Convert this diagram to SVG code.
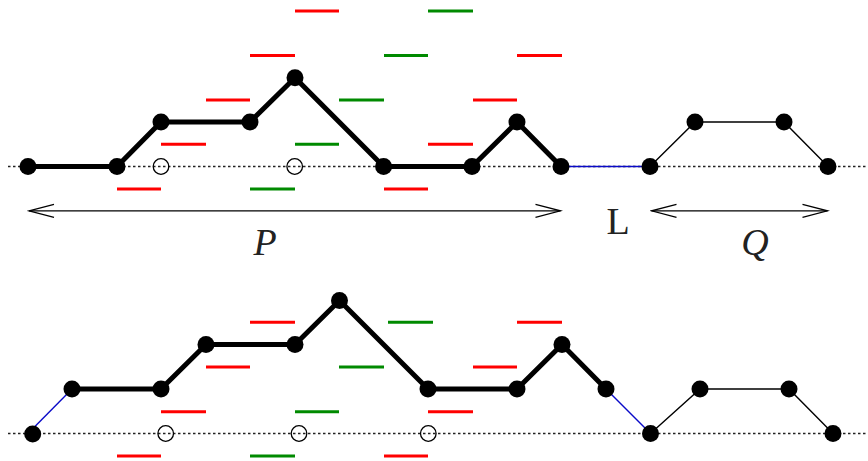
<svg xmlns="http://www.w3.org/2000/svg" width="868" height="461" viewBox="0 0 868 461">
<style>
.base{stroke:#222;stroke-width:1.5;stroke-dasharray:2.5 2.5;fill:none}
.thick{stroke:#000;stroke-width:5;fill:none;stroke-linejoin:round}
.thin{stroke:#000;stroke-width:1.4;fill:none}
.blue{stroke:#0a0ac8;stroke-width:1.4;fill:none}
.dot{fill:#000}
.hol{fill:none;stroke:#000;stroke-width:1.3}
.r{stroke:#ff0000;stroke-width:3}
.g{stroke:#008a00;stroke-width:3}
.arw{stroke:#000;stroke-width:1.3;fill:none}
.lab{font-family:"Liberation Serif","Times New Roman",serif;font-size:38px;fill:#222}
</style>
<defs>
<marker id="ah" viewBox="-27 -8 29 16" refX="0" refY="0" markerWidth="29" markerHeight="16" markerUnits="userSpaceOnUse" orient="auto-start-reverse">
<path d="M-25,-6.5 L0,0 L-25,6.5" fill="none" stroke="#000" stroke-width="1.3"/>
</marker>
</defs>
<g id="baselines">
<line class="base" x1="8" y1="166.5" x2="868" y2="166.5"/>
<line class="base" x1="8" y1="433.5" x2="868" y2="433.5"/>
</g>
<g id="levels-top">
<line class="r" x1="117" y1="189" x2="161" y2="189"/>
<line class="r" x1="161" y1="144.3" x2="206" y2="144.3"/>
<line class="r" x1="206" y1="100" x2="250" y2="100"/>
<line class="r" x1="250" y1="55.5" x2="295" y2="55.5"/>
<line class="r" x1="295" y1="11" x2="339" y2="11"/>
<line class="g" x1="250" y1="189" x2="295" y2="189"/>
<line class="g" x1="295" y1="144.3" x2="339" y2="144.3"/>
<line class="g" x1="339" y1="100" x2="384" y2="100"/>
<line class="g" x1="384" y1="55.5" x2="428" y2="55.5"/>
<line class="g" x1="428" y1="11" x2="473" y2="11"/>
<line class="r" x1="384" y1="189" x2="428" y2="189"/>
<line class="r" x1="428" y1="144.3" x2="473" y2="144.3"/>
<line class="r" x1="473" y1="100" x2="517" y2="100"/>
<line class="r" x1="517" y1="55.5" x2="562" y2="55.5"/>
</g>
<g id="levels-bottom">
<line class="r" x1="250" y1="322.3" x2="295" y2="322.3"/>
<line class="g" x1="388" y1="322.3" x2="433" y2="322.3"/>
<line class="r" x1="517" y1="322.3" x2="562" y2="322.3"/>
<line class="r" x1="206" y1="367" x2="250" y2="367"/>
<line class="g" x1="339" y1="367" x2="384" y2="367"/>
<line class="r" x1="473" y1="367" x2="517" y2="367"/>
<line class="r" x1="161" y1="411.7" x2="206" y2="411.7"/>
<line class="g" x1="295" y1="411.7" x2="339" y2="411.7"/>
<line class="r" x1="428" y1="411.7" x2="473" y2="411.7"/>
<line class="r" x1="117" y1="456" x2="161" y2="456"/>
<line class="g" x1="250" y1="456" x2="295" y2="456"/>
<line class="r" x1="384" y1="456" x2="428" y2="456"/>
</g>
<g id="connectors">
<polyline class="thick" points="28,166.5 117,166.5 161,122 250,122 295,77.7 383.6,166.5 472,166.5 517,122 561,166.5"/>
<line class="blue" x1="561" y1="166.5" x2="650" y2="166.5"/>
<polyline class="thin" points="650,166.5 695,122 784,122 828,166.5"/>
<line class="blue" x1="28" y1="433.5" x2="72" y2="389"/>
<polyline class="thick" points="72,389 161,389 206,344.5 295,344.5 339.5,300.5 428,389 517,389 562,344.5 606,389"/>
<line class="blue" x1="606" y1="389" x2="650.5" y2="433.5"/>
<polyline class="thin" points="650.5,433.5 700,389 789,389 833,433.5"/>
</g>
<g id="nodes-top">
<circle class="dot" cx="28" cy="166.5" r="8.5"/>
<circle class="dot" cx="117" cy="166.5" r="8.5"/>
<circle class="dot" cx="161" cy="122" r="8.5"/>
<circle class="dot" cx="250" cy="122" r="8.5"/>
<circle class="dot" cx="295" cy="77.7" r="8.5"/>
<circle class="dot" cx="383.6" cy="166.5" r="8.5"/>
<circle class="dot" cx="472" cy="166.5" r="8.5"/>
<circle class="dot" cx="517" cy="122" r="8.5"/>
<circle class="dot" cx="561" cy="166.5" r="8.5"/>
<circle class="dot" cx="650" cy="166.5" r="8.5"/>
<circle class="dot" cx="695" cy="122" r="8.5"/>
<circle class="dot" cx="784" cy="122" r="8.5"/>
<circle class="dot" cx="828" cy="166.5" r="8.5"/>
<circle class="hol" cx="161" cy="166.5" r="7.8"/>
<circle class="hol" cx="294.7" cy="166.5" r="7.8"/>
</g>
<g id="nodes-bottom">
<circle class="dot" cx="32.7" cy="434" r="8.5"/>
<circle class="dot" cx="72" cy="389" r="8.5"/>
<circle class="dot" cx="161" cy="389" r="8.5"/>
<circle class="dot" cx="206" cy="344.5" r="8.5"/>
<circle class="dot" cx="295" cy="344.5" r="8.5"/>
<circle class="dot" cx="339.5" cy="300.5" r="8.5"/>
<circle class="dot" cx="428" cy="389" r="8.5"/>
<circle class="dot" cx="517" cy="389" r="8.5"/>
<circle class="dot" cx="562" cy="344.5" r="8.5"/>
<circle class="dot" cx="606" cy="389" r="8.5"/>
<circle class="dot" cx="650.5" cy="433.5" r="8.5"/>
<circle class="dot" cx="700" cy="389" r="8.5"/>
<circle class="dot" cx="789" cy="389" r="8.5"/>
<circle class="dot" cx="833" cy="433.5" r="8.5"/>
<circle class="hol" cx="165.7" cy="433.5" r="7.8"/>
<circle class="hol" cx="299" cy="433.5" r="7.8"/>
<circle class="hol" cx="428.3" cy="433.5" r="7.8"/>
</g>
<g id="span-P">
<line class="arw" x1="29" y1="210.8" x2="560.5" y2="210.8" marker-start="url(#ah)" marker-end="url(#ah)"/>
<text class="lab" x="265" y="255" text-anchor="middle" font-style="italic">P</text>
</g>
<g id="label-L">
<text class="lab" x="618" y="233.5" text-anchor="middle">L</text>
</g>
<g id="span-Q">
<line class="arw" x1="651.5" y1="210.8" x2="827.5" y2="210.8" marker-start="url(#ah)" marker-end="url(#ah)"/>
<text class="lab" x="755" y="254.5" text-anchor="middle" font-style="italic">Q</text>
</g>
</svg>
